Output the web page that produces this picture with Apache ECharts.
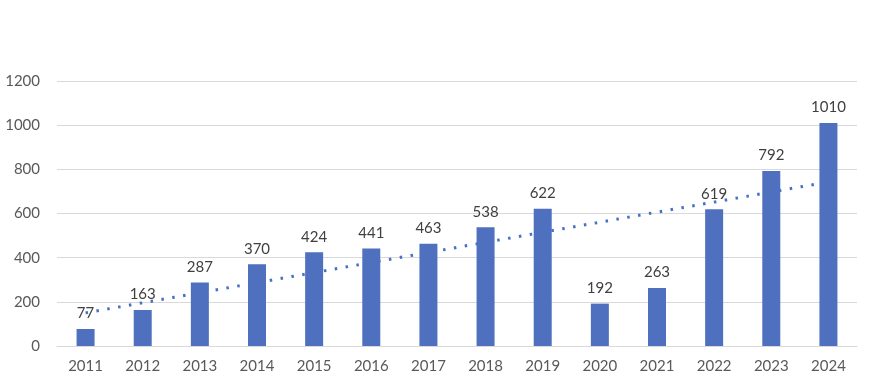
<!DOCTYPE html>
<html><head><meta charset="utf-8">
<script src="https://cdn.jsdelivr.net/npm/echarts@6/dist/echarts.min.js"></script>
<style>html,body{margin:0;padding:0;background:#fff}#c{width:874px;height:384px}</style>
</head><body><div id="c"></div>
<script>
const categories = ['2011','2012','2013','2014','2015','2016','2017','2018','2019','2020','2021','2022','2023','2024'];
const values = [77,163,287,370,424,441,463,538,622,192,263,619,792,1010];
// trend line endpoints (first and last category)
const trendStart = 150;
const trendEnd = 743;
const trend = categories.map((c, i) => i === 0 ? trendStart : (i === categories.length - 1 ? trendEnd : null));

const chart = echarts.init(document.getElementById('c'), null, {renderer: 'canvas'});
const font = 'Lato, "Open Sans", sans-serif';
chart.setOption({
  animation: false,
  grid: {left: 57, right: 17, top: 81, bottom: 38},
  xAxis: {
    type: 'category', data: categories,
    axisLine: {lineStyle: {color: '#d9d9d9'}},
    axisTick: {show: false},
    axisLabel: {color: '#595959', fontSize: 15, fontFamily: font, margin: 13}
  },
  yAxis: {
    type: 'value', min: 0, max: 1200, interval: 200,
    axisLine: {show: false}, axisTick: {show: false},
    splitLine: {lineStyle: {color: '#d9d9d9'}},
    axisLabel: {color: '#595959', fontSize: 15, fontFamily: font, margin: 17, formatter: v => String(v)}
  },
  series: [
    {
      type: 'line', data: trend, connectNulls: true, symbol: 'none', z: 1,
      lineStyle: {color: '#4472c4', width: 3, type: [2.5, 8.5], cap: 'butt'}
    },
    {
      type: 'bar', data: values, barWidth: 18, z: 2,
      itemStyle: {color: '#4e70be'},
      label: {show: true, position: 'top', distance: 8, color: '#404040', fontSize: 15, fontFamily: font}
    }
  ]
});
</script></body></html>
